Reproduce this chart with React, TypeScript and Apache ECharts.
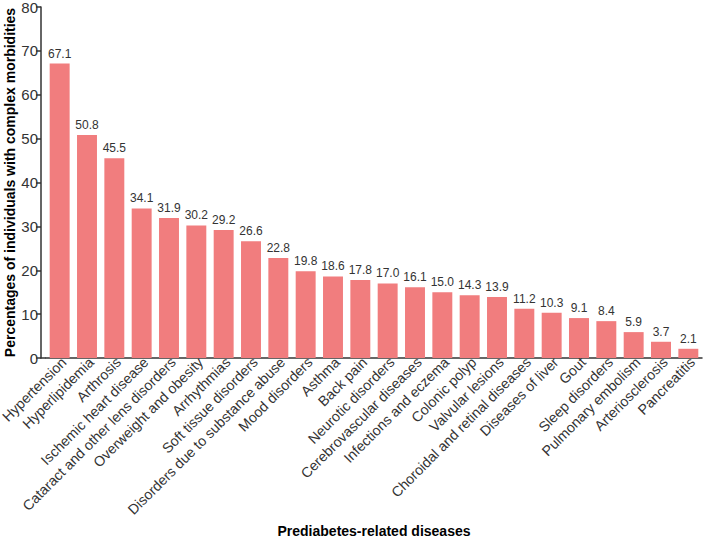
import React, { useEffect, useRef } from "react";
import * as echarts from "echarts";

const categories = [
  "Hypertension",
  "Hyperlipidemia",
  "Arthrosis",
  "Ischemic heart disease",
  "Cataract and other lens disorders",
  "Overweight and obesity",
  "Arrhythmias",
  "Soft tissue disorders",
  "Disorders due to substance abuse",
  "Mood disorders",
  "Asthma",
  "Back pain",
  "Neurotic disorders",
  "Cerebrovascular diseases",
  "Infections and eczema",
  "Colonic polyp",
  "Valvular lesions",
  "Choroidal and retinal diseases",
  "Diseases of liver",
  "Gout",
  "Sleep disorders",
  "Pulmonary embolism",
  "Arteriosclerosis",
  "Pancreatitis",
];

const values = [
  67.1, 50.8, 45.5, 34.1, 31.9, 30.2, 29.2, 26.6, 22.8, 19.8, 18.6, 17.8, 17.0,
  16.1, 15.0, 14.3, 13.9, 11.2, 10.3, 9.1, 8.4, 5.9, 3.7, 2.1,
];

const FONT = "'Liberation Sans', Arial, Helvetica, sans-serif";

export default function App() {
  const ref = useRef<HTMLDivElement>(null);
  useEffect(() => {
    if (!ref.current) return;
    const chart = echarts.init(ref.current, null, { renderer: "svg" });
    chart.setOption({
      animation: false,
      backgroundColor: "#ffffff",
      textStyle: { fontFamily: FONT },
      grid: {
        left: 46,
        right: 8,
        top: 7,
        bottom: 183,
        containLabel: false,
        outerBoundsMode: "none",
      },
      xAxis: {
        type: "category",
        data: categories,
        name: "Prediabetes-related diseases",
        nameLocation: "middle",
        nameGap: 166,
        nameMoveOverlap: false,
        nameTextStyle: { fontSize: 14, fontWeight: "bold", color: "#000", fontFamily: FONT },
        axisLine: { show: true, lineStyle: { color: "#333", width: 1.5 } },
        axisTick: { show: false },
        axisLabel: {
          rotate: 45,
          interval: 0,
          fontSize: 14.2,
          color: "#333",
          margin: 6,
          padding: [0, -6, 0, 0],
          fontFamily: FONT,
        },
      },
      yAxis: {
        type: "value",
        min: 0,
        max: 80,
        interval: 10,
        offset: 5,
        name: "Percentages of individuals with complex morbidities",
        nameLocation: "middle",
        nameGap: 24,
        nameMoveOverlap: false,
        nameTextStyle: { fontSize: 14, fontWeight: "bold", color: "#000", fontFamily: FONT },
        axisLine: { show: true, lineStyle: { color: "#333", width: 1.5 } },
        axisTick: { show: true, length: 5, lineStyle: { color: "#333", width: 1.5 } },
        axisLabel: { fontSize: 15, color: "#333", margin: 3, fontFamily: FONT },
        splitLine: { show: false },
      },
      graphic: [
        {
          type: "line",
          shape: { x1: 40.5, y1: 358, x2: 46, y2: 358 },
          style: { stroke: "#333", lineWidth: 1.5 },
        },
      ],
      series: [
        {
          type: "bar",
          data: values,
          barCategoryGap: "27%",
          itemStyle: { color: "#F17D7E" },
          label: {
            show: true,
            position: "top",
            distance: 4,
            fontSize: 12,
            color: "#333",
            fontFamily: FONT,
            formatter: (p: any) => Number(p.value).toFixed(1),
          },
        },
      ],
    });
    return () => chart.dispose();
  }, []);
  return (
    <div
      ref={ref}
      style={{ position: "fixed", left: 0, top: 0, width: 710, height: 541 }}
    />
  );
}
